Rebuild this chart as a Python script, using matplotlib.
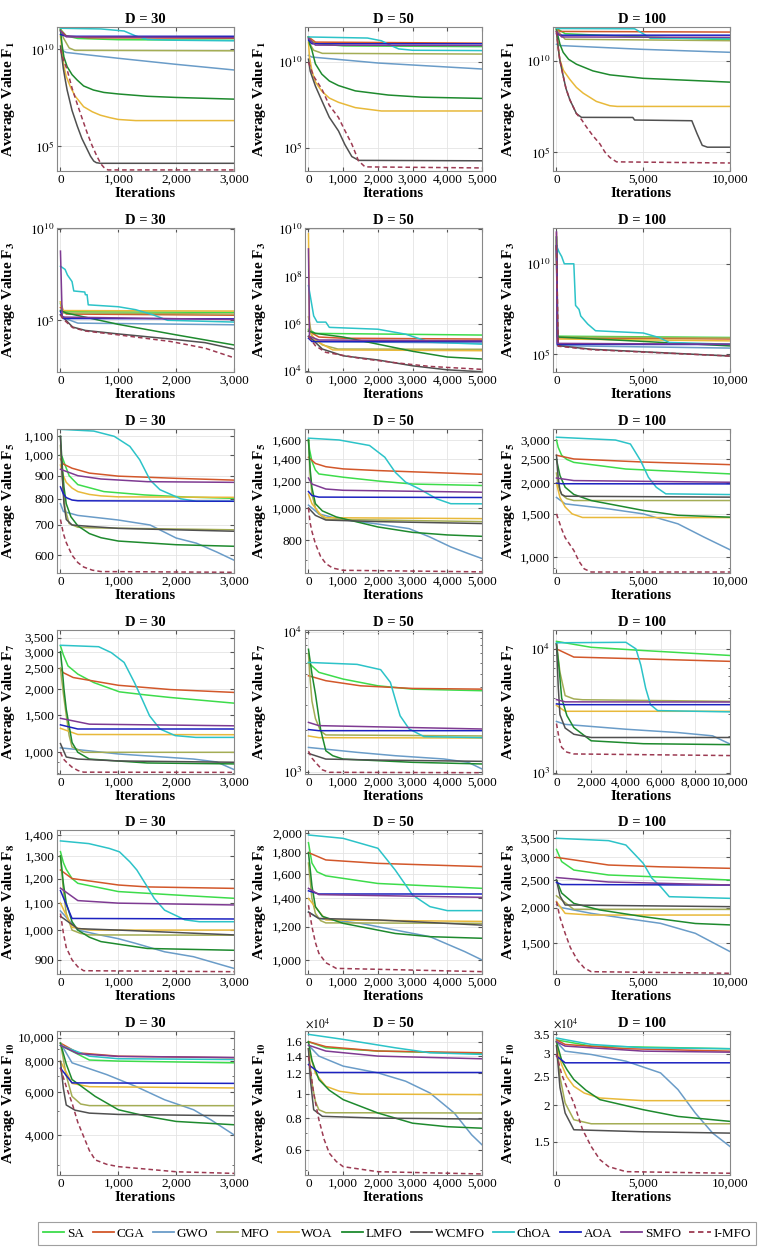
import numpy as np
import matplotlib
matplotlib.use('Agg')
import matplotlib.pyplot as plt
from matplotlib.ticker import FixedLocator, FixedFormatter, NullFormatter, FuncFormatter
from matplotlib.lines import Line2D

plt.rcParams['font.family'] = ['Liberation Serif', 'DejaVu Serif']
plt.rcParams['mathtext.fontset'] = 'stix'

names = ['SA', 'CGA', 'GWO', 'MFO', 'WOA', 'LMFO', 'WCMFO', 'ChOA', 'AOA', 'SMFO', 'I-MFO']
colors = ['#3ddc4b', '#d2572a', '#6a9cc8', '#a4ad55', '#e8b93a', '#1e8a2e',
          '#505050', '#2cc3c8', '#1c22c0', '#7e3a92', '#9c3a52']

# ---- convergence data: (iteration, average value) ----
f1_d30 = {
    'SA': [(0, 1.1e11), (100, 5e10), (300, 3.7e10), (1000, 3.2e10), (3000, 3e10)],
    'CGA': [(0, 1.0e11), (100, 5e10), (500, 4e10), (3000, 3.8e10)],
    'GWO': [(0, 1e10), (100, 7e9), (1000, 3.5e9), (2000, 1.7e9), (3000, 8.7e8)],
    'MFO': [(0, 1.2e11), (50, 4e10), (150, 1.2e10), (250, 9e9), (3000, 8.5e9)],
    'WOA': [(0, 5e10), (30, 8e9), (60, 1.3e9), (100, 4e8), (170, 1.2e8), (250, 4e7), (400, 1.1e7), (550, 6e6),
            (690, 4e6), (850, 3e6), (1000, 2.4e6), (1300, 2.1e6), (3000, 2.1e6)],
    'LMFO': [(0, 1e11), (30, 1.5e10), (60, 4e9), (115, 1.3e9), (200, 5e8), (290, 2.6e8), (400, 1.3e8), (570, 8e7),
             (750, 6e7), (1000, 5e7), (1500, 3.8e7), (2000, 3.3e7), (3000, 2.7e7)],
    'WCMFO': [(0, 1.5e10), (20, 5e9), (50, 1e9), (80, 3e8), (115, 8e7), (200, 7e6), (290, 1.1e6), (370, 2.5e5),
              (460, 7e4), (520, 3e4), (575, 1.7e4), (620, 1.4e4), (690, 1.3e4), (3000, 1.3e4)],
    'ChOA': [(0, 1.25e11), (700, 1.15e11), (1100, 9e10), (1300, 5e10), (1500, 3.3e10), (2000, 3e10), (3000, 2.8e10)],
    'AOA': [(0, 6e10), (100, 4.8e10), (3000, 4.8e10)],
    'SMFO': [(0, 9e10), (100, 4.5e10), (3000, 4.1e10)],
    'I-MFO': [(0, 1e10), (50, 3e9), (115, 9e8), (200, 1e8), (290, 1.5e7), (370, 3e6), (460, 5e5), (540, 1.2e5),
              (630, 3e4), (700, 1.2e4), (750, 8e3), (820, 5.9e3), (3000, 5.9e3)],
}
f1_d50 = {
    'SA': [(0, 3e11), (100, 1.6e11), (300, 1.2e11), (1000, 9e10), (5000, 8.2e10)],
    'CGA': [(0, 3e11), (200, 1.5e11), (5000, 1.3e11)],
    'GWO': [(0, 2.5e10), (100, 2e10), (2000, 9e9), (5000, 4e9)],
    'MFO': [(0, 3e11), (60, 1e11), (150, 5e10), (400, 3.3e10), (5000, 3e10)],
    'WOA': [(0, 1.5e11), (30, 2e10), (100, 3e9), (200, 7e8), (385, 2e8), (600, 8e7), (865, 4.5e7), (1350, 2.2e7),
            (2100, 1.4e7), (5000, 1.4e7)],
    'LMFO': [(0, 3e11), (30, 1.2e11), (100, 5e10), (200, 8e9), (385, 2e9), (600, 8e8), (865, 4.3e8), (1350, 2.1e8),
             (2300, 1.2e8), (3270, 9e7), (5000, 7.6e7)],
    'WCMFO': [(0, 1.5e10), (50, 3e9), (200, 4e8), (385, 5.6e7), (600, 6e6), (865, 9.5e5), (1050, 1.5e5),
              (1250, 3e4), (1450, 1.8e4), (5000, 1.7e4)],
    'ChOA': [(0, 3e11), (1700, 2.6e11), (2100, 1.8e11), (2400, 9e10), (2600, 6e10), (3000, 5e10), (5000, 4.8e10)],
    'AOA': [(0, 2e11), (100, 1.2e11), (5000, 1.2e11)],
    'SMFO': [(0, 2.5e11), (200, 1e11), (5000, 9.5e10)],
    'I-MFO': [(0, 1e10), (150, 1.5e9), (385, 2.7e8), (600, 3e7), (865, 5.8e6), (1050, 1e6), (1250, 1.6e5),
              (1350, 5e4), (1440, 1.7e4), (1630, 7.5e3), (5000, 6.5e3)],
}
f1_d100 = {
    'SA': [(0, 6e11), (500, 3e11), (5000, 2e11), (10000, 1.4e11)],
    'CGA': [(0, 6e11), (200, 4e11), (10000, 3.7e11)],
    'GWO': [(0, 8e10), (200, 6.8e10), (5000, 4.2e10), (10000, 2.9e10)],
    'MFO': [(0, 5e11), (500, 1.5e11), (10000, 1.25e11)],
    'WOA': [(0, 5e11), (100, 6e10), (190, 1.2e10), (400, 3e9), (770, 9.6e8), (1150, 3.5e8), (1540, 1.7e8),
            (2300, 6e7), (3080, 3.5e7), (3500, 3.2e7), (10000, 3.2e7)],
    'LMFO': [(0, 5e11), (100, 2e11), (200, 8e10), (385, 2.9e10), (700, 1.2e10), (1150, 6.5e9), (2100, 2.8e9),
             (3080, 1.7e9), (5000, 1.1e9), (10000, 6.8e8)],
    'WCMFO': [(0, 4e11), (100, 5e10), (200, 1e10), (385, 1.5e9), (550, 3e8), (770, 7.4e7), (1150, 1.3e7),
              (1440, 8.1e6), (4400, 8e6), (4500, 5.8e6), (7800, 5.3e6), (8100, 1.05e6), (8400, 2.4e5),
              (8700, 1.9e5), (10000, 1.9e5)],
    'ChOA': [(0, 5.8e11), (4500, 5.6e11), (5000, 3e11), (5400, 1.7e11), (10000, 1.6e11)],
    'AOA': [(0, 3e11), (200, 2.5e11), (10000, 2.5e11)],
    'SMFO': [(0, 4e11), (300, 2e11), (10000, 1.9e11)],
    'I-MFO': [(0, 4e11), (100, 5e10), (200, 1e10), (385, 1.5e9), (550, 3e8), (770, 7.4e7), (1150, 1.3e7),
              (1450, 6e6), (1730, 2.4e6), (2100, 8e5), (2500, 2.9e5), (2800, 1e5), (3080, 5.2e4), (3460, 3e4),
              (10000, 2.6e4)],
}
f3_d30 = {
    'SA': [(0, 8e5), (50, 3e5), (500, 2.9e5), (3000, 2.7e5)],
    'CGA': [(0, 5e5), (100, 2.2e5), (3000, 1.9e5)],
    'GWO': [(0, 2e5), (100, 1.2e5), (300, 7e4), (3000, 5.7e4)],
    'MFO': [(0, 1e6), (50, 2.5e5), (3000, 2.2e5)],
    'WOA': [(0, 1e6), (50, 3.4e5), (3000, 3.2e5)],
    'LMFO': [(0, 3.5e5), (100, 2.5e5), (1000, 6e4), (2000, 1.6e4), (3000, 4.5e3)],
    'WCMFO': [(0, 2e5), (40, 1.5e5), (210, 4.3e4), (430, 2.8e4), (1000, 1.8e4), (1900, 9.5e3), (2500, 6e3), (3000, 2.7e3)],
    'ChOA': [(0, 9e7), (80, 6e7), (120, 3e7), (200, 1.3e7), (230, 4e6), (420, 3.5e6), (430, 2.5e6), (460, 2.5e6),
             (480, 7e5), (1000, 5.5e5), (1300, 3.8e5), (1600, 2e5), (1850, 1e5), (3000, 8e4)],
    'AOA': [(0, 3e5), (50, 1.25e5), (3000, 1.2e5)],
    'SMFO': [(0, 6e8), (30, 1.5e5), (3000, 1.1e5)],
    'I-MFO': [(0, 2e5), (40, 1.2e5), (210, 4e4), (430, 2.6e4), (1000, 1.6e4), (1900, 7e3), (2500, 3e3), (3000, 9e2)],
}
f3_d50 = {
    'SA': [(0, 6e5), (200, 4e5), (5000, 3.4e5)],
    'CGA': [(0, 5e5), (300, 2.8e5), (1000, 2.5e5), (5000, 2.3e5)],
    'GWO': [(0, 3e5), (200, 1.8e5), (5000, 1.55e5)],
    'MFO': [(0, 2e6), (100, 3e5), (400, 1.3e5), (850, 8.7e4), (5000, 8.5e4)],
    'WOA': [(0, 6.6e9), (30, 5e5), (200, 2e5), (700, 8e4), (5000, 7.4e4)],
    'LMFO': [(0, 5e5), (200, 4e5), (1000, 2.8e5), (2000, 1.4e5), (3000, 7e4), (4000, 4e4), (5000, 3.3e4)],
    'WCMFO': [(0, 3e5), (100, 2.3e5), (400, 8.7e4), (1000, 4.5e4), (2000, 3e4), (3000, 1.7e4), (4000, 1.15e4), (5000, 9.5e3)],
    'ChOA': [(0, 4.2e7), (50, 1.6e7), (150, 2.2e6), (250, 1.2e6), (500, 1.2e6), (600, 7.2e5), (2000, 6e5),
             (2800, 3.7e5), (3500, 1.7e5), (5000, 1.4e5)],
    'AOA': [(0, 2.5e5), (100, 1.8e5), (5000, 1.8e5)],
    'SMFO': [(0, 1.5e9), (30, 3e5), (300, 2.1e5), (5000, 1.95e5)],
    'I-MFO': [(0, 3e5), (200, 1.2e5), (500, 6.3e4), (1500, 3.5e4), (2500, 2.3e4), (3500, 1.6e4), (5000, 1.2e4)],
}
f3_d100 = {
    'SA': [(0, 3e11), (50, 1e6), (10000, 8.5e5)],
    'CGA': [(0, 5e11), (50, 8e5), (10000, 7e5)],
    'GWO': [(0, 1e11), (50, 3e5), (10000, 2.2e5)],
    'MFO': [(0, 2e11), (50, 9e5), (10000, 8e5)],
    'WOA': [(0, 1e11), (50, 7e5), (10000, 5.5e5)],
    'LMFO': [(0, 3e11), (50, 9e5), (10000, 2.9e5)],
    'WCMFO': [(0, 1e11), (100, 3e5), (2000, 1.9e5), (10000, 8e4)],
    'ChOA': [(0, 1e11), (150, 4.5e10), (300, 2.5e10), (450, 1e10), (1000, 1e10), (1100, 5e7), (1300, 3e7),
             (1400, 1.3e7), (1800, 4.7e6), (2250, 2e6), (5000, 1.5e6), (5900, 8.5e5), (6500, 4.5e5), (10000, 3.6e5)],
    'AOA': [(0, 1e11), (50, 3.5e5), (10000, 3.5e5)],
    'SMFO': [(0, 5.8e11), (50, 4e5), (10000, 3.6e5)],
    'I-MFO': [(0, 1e11), (100, 2.8e5), (2000, 1.8e5), (10000, 8e4)],
}
f5_d30 = {
    'SA': [(0, 1000), (30, 990), (80, 950), (150, 900), (300, 860), (750, 830), (1450, 816), (2200, 807), (3000, 802)],
    'CGA': [(0, 980), (50, 955), (200, 935), (500, 912), (1000, 898), (2000, 888), (3000, 880)],
    'GWO': [(0, 780), (50, 750), (300, 735), (1000, 718), (1550, 700), (2000, 655), (2350, 638), (2700, 610), (3000, 585)],
    'MFO': [(0, 1050), (30, 900), (80, 760), (150, 705), (300, 692), (500, 690), (3000, 683)],
    'WOA': [(0, 950), (50, 900), (100, 870), (200, 845), (300, 830), (500, 818), (700, 812), (1000, 808), (3000, 806)],
    'LMFO': [(0, 1100), (30, 950), (60, 850), (100, 780), (180, 730), (300, 697), (500, 670), (700, 656), (1000, 645),
             (2000, 633), (3000, 628)],
    'WCMFO': [(0, 1100), (30, 900), (60, 780), (100, 720), (200, 700), (500, 695), (1000, 688), (3000, 678)],
    'ChOA': [(0, 1140), (575, 1130), (930, 1100), (1200, 1045), (1370, 976), (1550, 880), (1720, 838),
             (2080, 800), (2350, 790), (3000, 790)],
    'AOA': [(0, 850), (50, 820), (100, 805), (200, 795), (300, 792), (3000, 790)],
    'SMFO': [(0, 930), (300, 900), (700, 885), (1500, 873), (3000, 870)],
    'I-MFO': [(0, 720), (50, 670), (100, 640), (200, 600), (300, 578), (400, 565), (550, 556), (700, 552), (3000, 550)],
}
f5_d50 = {
    'SA': [(0, 1600), (30, 1500), (100, 1380), (200, 1300), (300, 1265), (1000, 1237), (2000, 1205), (3000, 1180),
           (5000, 1168)],
    'CGA': [(0, 1420), (200, 1360), (500, 1330), (1000, 1310), (2000, 1295), (5000, 1262)],
    'GWO': [(0, 1020), (300, 960), (900, 925), (2000, 895), (2900, 867), (3500, 818), (4100, 764), (4600, 730), (5000, 705)],
    'MFO': [(0, 1600), (50, 1250), (100, 1100), (200, 1000), (300, 960), (500, 925), (5000, 910)],
    'WOA': [(0, 1100), (100, 1030), (200, 1000), (350, 955), (500, 935), (5000, 929)],
    'LMFO': [(0, 1600), (50, 1300), (100, 1150), (200, 1030), (400, 980), (800, 940), (2000, 877), (3000, 845),
             (4000, 830), (5000, 822)],
    'WCMFO': [(0, 1000), (200, 950), (500, 920), (2000, 910), (5000, 898)],
    'ChOA': [(0, 1620), (880, 1600), (1760, 1540), (2200, 1420), (2500, 1280), (2800, 1195), (3200, 1140),
             (3700, 1065), (4100, 1030), (5000, 1029)],
    'AOA': [(0, 1120), (100, 1090), (300, 1078), (5000, 1075)],
    'SMFO': [(0, 1230), (100, 1180), (500, 1140), (1000, 1130), (5000, 1115)],
    'I-MFO': [(0, 1000), (50, 900), (100, 850), (200, 781), (350, 715), (500, 681), (700, 660), (1000, 650), (5000, 643)],
}
f5_d100 = {
    'SA': [(0, 3000), (100, 2800), (300, 2600), (600, 2500), (1000, 2432), (4000, 2285), (6000, 2250), (10000, 2183)],
    'CGA': [(0, 2600), (1000, 2511), (5000, 2440), (10000, 2381)],
    'GWO': [(0, 1750), (500, 1648), (3000, 1572), (5000, 1500), (7000, 1366), (8500, 1206), (10000, 1071)],
    'MFO': [(0, 2200), (100, 1950), (300, 1800), (600, 1730), (1000, 1700), (10000, 1700)],
    'WOA': [(0, 2000), (200, 1750), (500, 1600), (900, 1500), (1500, 1450), (10000, 1448)],
    'LMFO': [(0, 2500), (200, 2150), (500, 1926), (1000, 1800), (2000, 1700), (5000, 1549), (7000, 1480), (10000, 1454)],
    'WCMFO': [(0, 2600), (100, 2100), (200, 1880), (300, 1800), (500, 1770), (10000, 1755)],
    'ChOA': [(0, 3080), (3400, 3000), (4260, 2890), (4850, 2470), (5300, 2115), (5750, 1926), (6300, 1810), (10000, 1798)],
    'AOA': [(0, 2000), (300, 1990), (10000, 1987)],
    'SMFO': [(0, 2100), (1000, 2050), (10000, 2018)],
    'I-MFO': [(0, 1500), (300, 1300), (500, 1200), (1000, 1064), (1300, 960), (1600, 895), (2000, 869), (10000, 869)],
}
f7_d30 = {
    'SA': [(0, 3200), (50, 2900), (130, 2570), (300, 2350), (575, 2143), (1020, 1936), (1460, 1874), (1900, 1820),
           (3000, 1711)],
    'CGA': [(0, 2500), (45, 2390), (220, 2264), (1000, 2080), (1900, 1985), (3000, 1924)],
    'GWO': [(0, 1050), (300, 1030), (1000, 982), (2300, 929), (2700, 900), (3000, 828)],
    'MFO': [(0, 2500), (50, 1900), (100, 1500), (150, 1200), (200, 1060), (400, 1000), (3000, 1000)],
    'WOA': [(0, 1300), (300, 1215), (3000, 1212)],
    'LMFO': [(0, 3000), (30, 2500), (60, 2000), (100, 1600), (200, 1114), (300, 1000), (500, 929), (1500, 890), (3000, 881)],
    'WCMFO': [(0, 1100), (100, 950), (300, 929), (1000, 910), (3000, 897)],
    'ChOA': [(0, 3220), (660, 3170), (880, 2970), (1100, 2670), (1280, 2140), (1410, 1790), (1540, 1490),
             (1720, 1290), (1985, 1200), (2340, 1177), (3000, 1177)],
    'AOA': [(0, 1350), (300, 1290), (3000, 1290)],
    'SMFO': [(0, 1450), (500, 1360), (3000, 1336)],
    'I-MFO': [(0, 1000), (50, 930), (100, 900), (200, 850), (300, 820), (400, 805), (3000, 803)],
}
f7_d50 = {
    'SA': [(0, 6000), (300, 5130), (1000, 4590), (2000, 4110), (3000, 3890), (5000, 3790)],
    'CGA': [(0, 4850), (500, 4470), (1500, 4110), (3000, 3935), (5000, 3890)],
    'GWO': [(0, 1490), (1400, 1374), (2500, 1300), (3900, 1232), (4600, 1166), (5000, 1045)],
    'MFO': [(0, 7000), (50, 4500), (100, 3200), (200, 2400), (350, 1950), (500, 1830), (5000, 1800)],
    'WOA': [(0, 1800), (300, 1750), (5000, 1740)],
    'LMFO': [(0, 7500), (100, 5000), (200, 3600), (350, 2000), (500, 1410), (700, 1300), (1000, 1230), (3000, 1166),
             (5000, 1135)],
    'WCMFO': [(0, 1350), (500, 1230), (2000, 1210), (5000, 1185)],
    'ChOA': [(0, 6040), (1400, 5850), (2080, 5360), (2360, 4350), (2500, 3300), (2640, 2510), (2900, 2020),
             (3330, 1780), (5000, 1750)],
    'AOA': [(0, 2000), (300, 1963), (5000, 1963)],
    'SMFO': [(0, 2250), (300, 2133), (5000, 2018)],
    'I-MFO': [(0, 1400), (100, 1250), (200, 1166), (400, 1030), (600, 989), (5000, 983)],
}
f7_d100 = {
    'SA': [(0, 11500), (2000, 10300), (5000, 9700), (10000, 8850)],
    'CGA': [(0, 10000), (1000, 8590), (5000, 8300), (10000, 7935)],
    'GWO': [(0, 2600), (500, 2463), (4000, 2250), (7000, 2115), (9000, 1990), (10000, 1710)],
    'MFO': [(0, 11000), (200, 6500), (500, 4200), (1000, 3950), (1500, 3890), (10000, 3775)],
    'WOA': [(0, 3500), (500, 3140), (10000, 3140)],
    'LMFO': [(0, 11000), (150, 7000), (300, 4010), (600, 2900), (1000, 2320), (2000, 1815), (5000, 1720), (10000, 1690)],
    'WCMFO': [(0, 11000), (100, 5000), (200, 2950), (500, 2300), (1000, 2050), (2000, 1930), (10000, 1930)],
    'ChOA': [(0, 11200), (4000, 11300), (4580, 10000), (4860, 7400), (5140, 4820), (5420, 3550), (5830, 3180), (10000, 3105)],
    'AOA': [(0, 3600), (500, 3550), (10000, 3550)],
    'SMFO': [(0, 3900), (500, 3740), (10000, 3730)],
    'I-MFO': [(0, 2500), (150, 1900), (300, 1607), (600, 1470), (1000, 1422), (10000, 1380)],
}
f8_d30 = {
    'SA': [(0, 1320), (50, 1270), (100, 1240), (200, 1200), (300, 1180), (1000, 1146), (2000, 1132), (3000, 1119)],
    'CGA': [(0, 1237), (200, 1200), (1000, 1173), (1500, 1165), (3000, 1159)],
    'GWO': [(0, 1070), (300, 1000), (700, 982), (1000, 970), (1300, 954), (1800, 926), (2300, 910), (3000, 873)],
    'MFO': [(0, 1300), (50, 1150), (100, 1060), (200, 1000), (350, 988), (500, 983), (3000, 982)],
    'WOA': [(0, 1100), (200, 1010), (500, 1000), (3000, 1000)],
    'LMFO': [(0, 1300), (50, 1180), (100, 1100), (200, 1030), (300, 1000), (500, 975), (700, 960), (1500, 937), (3000, 931)],
    'WCMFO': [(0, 1050), (300, 1005), (1000, 1000), (3000, 983)],
    'ChOA': [(0, 1371), (490, 1358), (845, 1335), (1020, 1319), (1200, 1273), (1320, 1237), (1500, 1166),
             (1620, 1119), (1800, 1073), (2150, 1037), (2400, 1030), (3000, 1030)],
    'AOA': [(0, 1150), (200, 1042), (3000, 1040)],
    'SMFO': [(0, 1160), (300, 1110), (1000, 1100), (3000, 1093)],
    'I-MFO': [(0, 1060), (50, 990), (100, 940), (200, 900), (300, 878), (400, 866), (3000, 863)],
}
f8_d50 = {
    'SA': [(0, 1900), (100, 1700), (250, 1620), (500, 1585), (2000, 1520), (5000, 1480)],
    'CGA': [(0, 1800), (500, 1729), (2000, 1697), (5000, 1667)],
    'GWO': [(0, 1300), (300, 1255), (1500, 1222), (2500, 1178), (3500, 1136), (4500, 1047), (5000, 1000)],
    'MFO': [(0, 1700), (100, 1400), (200, 1290), (350, 1240), (500, 1225), (5000, 1222)],
    'WOA': [(0, 1400), (500, 1245), (5000, 1235)],
    'LMFO': [(0, 1800), (100, 1500), (200, 1339), (400, 1270), (1000, 1222), (2500, 1156), (3500, 1136), (5000, 1126)],
    'WCMFO': [(0, 1300), (300, 1255), (2000, 1245), (5000, 1210)],
    'ChOA': [(0, 1982), (1000, 1946), (2000, 1843), (2500, 1636), (3000, 1427), (3500, 1339), (4000, 1310), (5000, 1310)],
    'AOA': [(0, 1460), (300, 1435), (5000, 1435)],
    'SMFO': [(0, 1480), (300, 1430), (5000, 1409)],
    'I-MFO': [(0, 1350), (100, 1200), (200, 1100), (300, 1037), (500, 985), (800, 955), (5000, 938)],
}
f8_d100 = {
    'SA': [(0, 3200), (300, 2900), (1000, 2709), (3000, 2603), (6000, 2560), (10000, 2500)],
    'CGA': [(0, 3000), (1000, 2940), (3000, 2821), (6000, 2780), (10000, 2747)],
    'GWO': [(0, 2050), (300, 2000), (2000, 1910), (4000, 1834), (6000, 1762), (8000, 1626), (10000, 1403)],
    'MFO': [(0, 2200), (1000, 1972), (10000, 1972)],
    'WOA': [(0, 2100), (500, 1910), (2000, 1884), (10000, 1884)],
    'LMFO': [(0, 2500), (300, 2250), (1000, 2070), (2500, 1963), (5000, 1860), (8000, 1760), (10000, 1740)],
    'WCMFO': [(0, 2500), (200, 2200), (500, 2043), (10000, 2016)],
    'ChOA': [(0, 3500), (3000, 3434), (4000, 3315), (5000, 2860), (5500, 2535), (6000, 2370), (6500, 2185), (10000, 2156)],
    'AOA': [(0, 2450), (300, 2410), (10000, 2400)],
    'SMFO': [(0, 2550), (500, 2535), (3000, 2460), (10000, 2401)],
    'I-MFO': [(0, 2100), (200, 1850), (500, 1625), (800, 1450), (1200, 1311), (1600, 1230), (2000, 1193), (10000, 1178)],
}
f10_d30 = {
    'SA': [(0, 9300), (500, 8100), (1000, 8020), (3000, 7890)],
    'CGA': [(0, 9500), (300, 8670), (1000, 8400), (3000, 8275)],
    'GWO': [(0, 9500), (200, 7890), (800, 7060), (1300, 6320), (1800, 5570), (2300, 5070), (2600, 4610), (3000, 4000)],
    'MFO': [(0, 9500), (100, 7000), (200, 5750), (350, 5350), (500, 5270), (3000, 5267)],
    'WOA': [(0, 8000), (200, 6500), (500, 6300), (3000, 6225)],
    'LMFO': [(0, 9500), (100, 7800), (200, 6740), (600, 5750), (1000, 5070), (1500, 4760), (2000, 4540), (3000, 4400)],
    'WCMFO': [(0, 8000), (50, 6200), (100, 5300), (250, 5050), (500, 4910), (1000, 4850), (3000, 4790)],
    'ChOA': [(0, 9300), (500, 8400), (1000, 8200), (3000, 8140)],
    'AOA': [(0, 7500), (200, 6530), (3000, 6500)],
    'SMFO': [(0, 9300), (300, 8600), (1000, 8380), (3000, 8300)],
    'I-MFO': [(0, 7500), (100, 6300), (200, 5400), (300, 4500), (400, 3940), (500, 3450), (600, 3160), (800, 3030),
              (1000, 2965), (2000, 2825), (3000, 2782)],
}
f10_d50 = {
    'SA': [(0, 16000), (500, 15140), (2000, 14700), (5000, 14350)],
    'CGA': [(0, 16000), (500, 15300), (2000, 14700), (5000, 14470)],
    'GWO': [(0, 15500), (300, 14040), (1000, 12820), (2000, 12060), (2800, 11180), (3500, 10050), (4200, 8380),
            (4700, 6880), (5000, 6280)],
    'MFO': [(0, 15000), (100, 11000), (200, 9300), (300, 8630), (500, 8400), (5000, 8380)],
    'WOA': [(0, 15000), (200, 12000), (500, 10680), (900, 10200), (1500, 9950), (5000, 9900)],
    'LMFO': [(0, 16000), (100, 13500), (300, 11350), (600, 10300), (1000, 9460), (2000, 8380), (3000, 7640),
             (4000, 7400), (5000, 7300)],
    'WCMFO': [(0, 15000), (50, 11500), (150, 8630), (400, 8130), (2000, 8000), (5000, 7930)],
    'ChOA': [(0, 17100), (1000, 16340), (2500, 15140), (3500, 14470), (5000, 14260)],
    'AOA': [(0, 13000), (300, 12100), (5000, 12100)],
    'SMFO': [(0, 15500), (500, 14700), (2000, 14040), (5000, 13700)],
    'I-MFO': [(0, 14000), (150, 10000), (300, 7890), (450, 6600), (600, 5820), (800, 5400), (1000, 5150),
              (2000, 4920), (5000, 4820)],
}
f10_d100 = {
    'SA': [(0, 33500), (2000, 31900), (10000, 31240)],
    'CGA': [(0, 33500), (500, 32320), (4000, 31240), (10000, 30650)],
    'GWO': [(0, 33000), (500, 30650), (2000, 29850), (4000, 28310), (6000, 25800), (7000, 22620), (8000, 18790),
            (9000, 16030), (10000, 14420)],
    'MFO': [(0, 33000), (200, 25000), (500, 20340), (1000, 17820), (2000, 17260), (10000, 17260)],
    'WOA': [(0, 32000), (300, 27500), (600, 25000), (1000, 23220), (1600, 22000), (2500, 21160), (5000, 20720),
            (10000, 20720)],
    'LMFO': [(0, 33000), (300, 28500), (600, 26500), (1000, 24490), (1700, 22500), (2500, 20890), (5000, 19290),
             (7000, 18290), (10000, 17590)],
    'WCMFO': [(0, 32000), (200, 23000), (500, 18790), (1000, 16460), (5000, 16200), (10000, 16030)],
    'ChOA': [(0, 34000), (2000, 32320), (5000, 31480), (10000, 31240)],
    'AOA': [(0, 29500), (500, 27950), (10000, 27950)],
    'SMFO': [(0, 33000), (500, 31900), (5000, 30650), (10000, 30400)],
    'I-MFO': [(0, 30000), (300, 25500), (600, 23000), (1000, 20340), (1500, 16500), (2000, 14420), (2500, 13000),
              (3000, 12300), (4000, 11820), (10000, 11670)],
}

# y limits and tick values per panel
ylims = {
    ('1', 30): (5.2e3, 1.45e11), ('1', 50): (4.3e3, 1.15e12), ('1', 100): (9.5e3, 7e11),
    ('3', 30): (150, 1.1e10), ('3', 50): (9.3e3, 1.15e10), ('3', 100): (1.05e4, 9.5e11),
    ('5', 30): (548, 1142), ('5', 50): (638, 1726), ('5', 100): (861, 3327),
    ('7', 30): (789, 3805), ('7', 50): (962, 1.03e4), ('7', 100): (980, 1.42e4),
    ('8', 30): (856, 1425), ('8', 50): (926, 2037), ('8', 100): (1171, 3742),
    ('10', 30): (2740, 10650), ('10', 50): (4775, 17630), ('10', 100): (11510, 35940),
}
yticks = {
    ('1', 30): [1e5, 1e10], ('1', 50): [1e5, 1e10], ('1', 100): [1e5, 1e10],
    ('3', 30): [1e5, 1e10], ('3', 50): [1e4, 1e6, 1e8, 1e10], ('3', 100): [1e5, 1e10],
    ('5', 30): [600, 700, 800, 900, 1000, 1100], ('5', 50): [800, 1000, 1200, 1400, 1600],
    ('5', 100): [1000, 1500, 2000, 2500, 3000],
    ('7', 30): [1000, 1500, 2000, 2500, 3000, 3500], ('7', 50): [1e3, 1e4], ('7', 100): [1e3, 1e4],
    ('8', 30): [900, 1000, 1100, 1200, 1300, 1400], ('8', 50): [1000, 1200, 1400, 1600, 1800, 2000],
    ('8', 100): [1500, 2000, 2500, 3000, 3500],
    ('10', 30): [4000, 6000, 8000, 10000], ('10', 50): [6000, 8000, 10000, 12000, 14000, 16000],
    ('10', 100): [15000, 20000, 25000, 30000, 35000],
}
xticks = {30: [0, 1000, 2000, 3000], 50: [0, 1000, 2000, 3000, 4000, 5000], 100: [0, 5000, 10000]}

rows = [('1', [f1_d30, f1_d50, f1_d100]), ('3', [f3_d30, f3_d50, f3_d100]), ('5', [f5_d30, f5_d50, f5_d100]),
        ('7', [f7_d30, f7_d50, f7_d100]), ('8', [f8_d30, f8_d50, f8_d100]), ('10', [f10_d30, f10_d50, f10_d100])]
dims = [30, 50, 100]
max_iter = {30: 3000, 50: 5000, 100: 10000}

W, H = 769, 1255
fig = plt.figure(figsize=(W / 100, H / 100), dpi=100)
lefts = [57, 305, 553]
tops = [27, 228, 429, 630, 830, 1031]
aw, ah = 177, 144
ylab_x = [-40, -37, -36]   # label centre, pixels left of the axes


def sci_label(v):
    return r'$10^{%d}$' % round(np.log10(v))


for r, (fn, datasets) in enumerate(rows):
    for c, D in enumerate(dims):
        data = datasets[c]
        ax = fig.add_axes([lefts[c] / W, 1 - (tops[r] + ah) / H, aw / W, ah / H])
        for name, col in zip(names, colors):
            pts = np.array(data[name], dtype=float)
            if name == 'I-MFO':
                ax.plot(pts[:, 0], pts[:, 1], color=col, lw=1.1, ls=(0, (3, 2)))
            else:
                ax.plot(pts[:, 0], pts[:, 1], color=col, lw=1.1)
        ax.set_yscale('log')
        N = max_iter[D]
        ax.set_xlim(-0.02 * N, N)
        ax.set_ylim(*ylims[(fn, D)])
        tv = yticks[(fn, D)]
        ax.yaxis.set_major_locator(FixedLocator(tv))
        if fn in ('1', '3') or (fn == '7' and D != 30):
            labels = [sci_label(v) for v in tv]
        elif fn == '10' and D != 30:
            labels = ['%g' % (v / 1e4) for v in tv]
            ax.text(0.0, 1.005, r'$\times10^{4}$', transform=ax.transAxes, ha='left', va='bottom', fontsize=8.5)
        else:
            labels = ['{:,}'.format(int(v)) for v in tv]
        ax.yaxis.set_major_formatter(FixedFormatter(labels))
        ax.yaxis.set_minor_formatter(NullFormatter())
        ax.xaxis.set_major_locator(FixedLocator(xticks[D] if not (fn == '7' and D == 100)
                                                else [0, 2000, 4000, 6000, 8000, 10000]))
        ax.xaxis.set_major_formatter(FuncFormatter(lambda v, p: '{:,}'.format(int(v))))
        ax.grid(True, which='major', color='#e4e4e4', lw=0.6)
        ax.set_axisbelow(True)
        ax.tick_params(which='both', direction='in', top=True, right=True, labelsize=9.5, pad=2, color='#555555')
        ax.tick_params(which='major', length=3)
        ax.tick_params(which='minor', length=1.5)
        for s in ax.spines.values():
            s.set_color('#888888')
            s.set_linewidth(0.8)
        ax.set_title('D = %d' % D, fontsize=10.5, fontweight='bold', pad=3)
        ax.set_xlabel('Iterations', fontsize=10.5, fontweight='bold', labelpad=1)
        ax.set_ylabel(r'Average Value F$_{\mathbf{%s}}$' % fn, fontsize=11, fontweight='bold')
        ax.yaxis.set_label_coords(ylab_x[c] / aw, 0.5)

handles = [Line2D([], [], color=col, lw=1.3, ls=(0, (3, 2)) if n == 'I-MFO' else '-')
           for n, col in zip(names, colors)]
leg = fig.legend(handles, names, loc='lower left', bbox_to_anchor=(38 / W, 1 - 1245 / H, 718 / W, 23 / H),
                 mode='expand', ncol=11, borderaxespad=0, fontsize=9.5, handlelength=1.6, handletextpad=0.2,
                 columnspacing=0.5, fancybox=False, edgecolor='#888888')
leg.get_frame().set_linewidth(0.8)

fig.savefig('out.png', dpi=100)
